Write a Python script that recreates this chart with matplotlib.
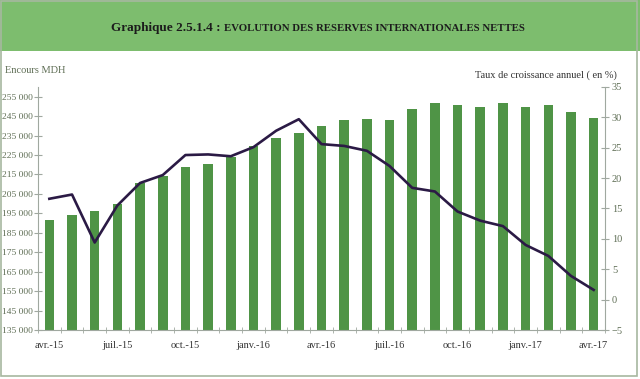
import numpy as np
import matplotlib
matplotlib.use("Agg")
import matplotlib.pyplot as plt
from matplotlib.patches import Rectangle
from matplotlib.ticker import FuncFormatter, MultipleLocator

# data
months = ["avr.-15", "mai-15", "juin-15", "juil.-15", "août-15", "sept.-15",
          "oct.-15", "nov.-15", "déc.-15", "janv.-16", "févr.-16", "mars-16",
          "avr.-16", "mai-16", "juin-16", "juil.-16", "août-16", "sept.-16",
          "oct.-16", "nov.-16", "déc.-16", "janv.-17", "févr.-17", "mars-17",
          "avr.-17"]
encours = [191400, 194300, 196000, 199600, 210500, 214000, 218700, 220500,
           223900, 229400, 233600, 236500, 240100, 243000, 243400, 243000,
           248500, 251600, 250500, 249500, 251700, 249900, 250900, 247000,
           244100]
croissance = [16.6, 17.3, 9.4, 15.5, 19.2, 20.5, 23.8, 23.9, 23.6, 25.1,
              27.8, 29.7, 25.6, 25.3, 24.5, 22.0, 18.4, 17.8, 14.5, 13.0,
              12.1, 9.0, 7.2, 3.9, 1.6]
shown_labels = ["avr.-15", "juil.-15", "oct.-15", "janv.-16", "avr.-16",
                "juil.-16", "oct.-16", "janv.-17", "avr.-17"]

bar_color = "#4f9446"
line_color = "#2b1a45"
txt_color = "#5f6e55"
axis_color = "#a0a8a0"

plt.rcParams["font.family"] = ["Liberation Serif", "DejaVu Serif"]

fig = plt.figure(figsize=(6.4, 3.79), dpi=100)
renderer = fig.canvas.get_renderer()

# title band and frame
fig.patches.append(Rectangle((0, 1 - 51 / 379), 1, 51 / 379, transform=fig.transFigure,
                             facecolor="#7dbd6e", edgecolor="none", zorder=0))
fig.patches.append(Rectangle((0.5 / 640, 3 / 379), 636 / 640, 375 / 379,
                             transform=fig.transFigure, facecolor="none",
                             edgecolor="#a7b8a0", linewidth=1.2, zorder=1))

# title in two sizes, second part put right after the first
title_y = 1 - 31 / 379
t1 = fig.text(111 / 640, title_y, "Graphique 2.5.1.4 :", fontsize=9.5,
              fontweight="bold", color="#1c1c1c", ha="left", va="baseline")
w1 = t1.get_window_extent(renderer).width
t2 = fig.text((111 + w1 + 3) / 640, title_y,
              "EVOLUTION DES RESERVES INTERNATIONALES NETTES", fontsize=7,
              fontweight="bold", color="#1c1c1c", ha="left", va="baseline")
w2 = t2.get_window_extent(renderer).width
t2.set_fontsize(7 * (524 - 114 - w1) / w2)

ax = fig.add_axes([38 / 640, 1 - 330 / 379, 567 / 640, 243 / 379])
x = np.arange(len(months))
ax.bar(x, encours, width=0.42, color=bar_color, zorder=2)
ax.set_xlim(-0.5, len(months) - 0.5)
ax.set_ylim(135000, 260000)
ax.set_yticks(np.arange(135000, 255001, 10000))
ax.yaxis.set_major_formatter(FuncFormatter(lambda v, p: f"{int(v):,}".replace(",", " ")))

ax.set_xticks([months.index(m) for m in shown_labels])
ax.set_xticklabels(shown_labels)
ax.xaxis.set_minor_locator(MultipleLocator(1, offset=0.5))
ax.tick_params(axis="x", which="major", length=0, pad=8, labelsize=7.5, labelcolor="#333333")
ax.tick_params(axis="x", which="minor", length=4, direction="inout", color=axis_color)
ax.tick_params(axis="y", length=6, direction="inout", color=axis_color,
               labelsize=6.8, labelcolor=txt_color, pad=1)

for s in ["top", "right"]:
    ax.spines[s].set_visible(False)
for s in ["left", "bottom"]:
    ax.spines[s].set_color(axis_color)

ax2 = ax.twinx()
ax2.plot(x, croissance, color=line_color, linewidth=1.9, zorder=3)
ax2.set_ylim(-5, 35)
ax2.set_yticks(np.arange(-5, 36, 5))
ax2.tick_params(axis="y", length=6, direction="inout", color=axis_color,
                labelsize=7.5, labelcolor=txt_color, pad=2)
for s in ["top", "left", "bottom"]:
    ax2.spines[s].set_visible(False)
ax2.spines["right"].set_color(axis_color)

fig.text(5 / 640, 1 - 73 / 379, "Encours MDH", fontsize=7.5, color=txt_color,
         ha="left", va="baseline")
fig.text(617 / 640, 1 - 78 / 379, "Taux de croissance annuel ( en %)", fontsize=7.5,
         color="#333333", ha="right", va="baseline")

fig.savefig("out.png", dpi=100)
